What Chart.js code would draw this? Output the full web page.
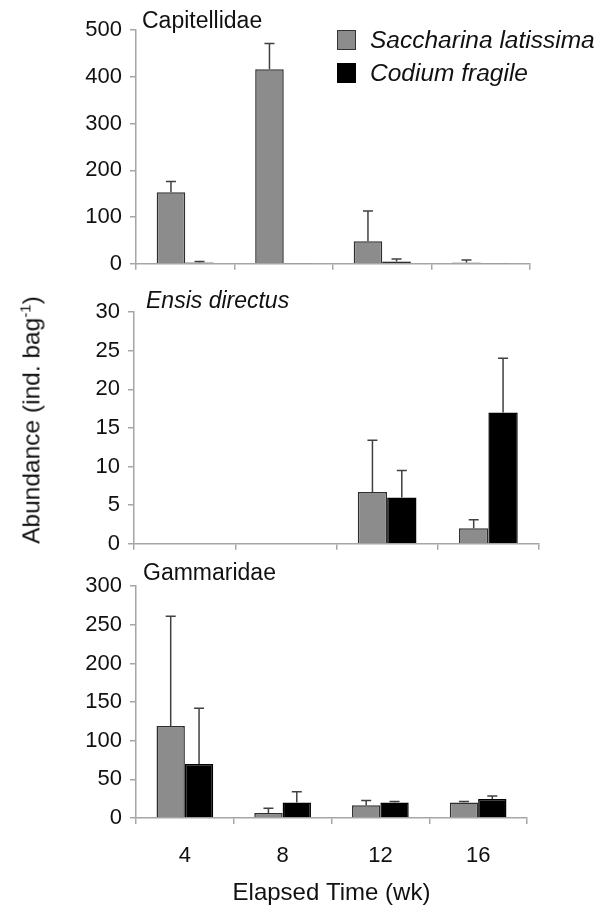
<!DOCTYPE html>
<html lang="en">
<head>
    <meta charset="UTF-8">
    <title>Abundance by elapsed time</title>
    <script src="https://cdn.jsdelivr.net/npm/chart.js"></script>
    <style>
        body { margin: 0; background: #fff; font-family: "Liberation Sans", Arial, sans-serif; }
        #wrap { position: relative; width: 605px; height: 911px; }
        .panel { position: absolute; left: 0; width: 605px; }
        .ptitle { position: absolute; font-size: 23px; color: #111; white-space: nowrap; }
        .legend { position: absolute; left: 337px; top: 23px; font-size: 24.5px; font-style: italic; color: #111; }
        .legend div { display: flex; align-items: center; height: 33px; }
        .swatch { width: 19px; height: 20px; margin-right: 14px; box-sizing: border-box; border: 1.5px solid #333; }
        #ylabel { position: absolute; left: 31px; top: 420px; font-size: 24.5px; color: #111;
                  transform: translate(-50%, -50%) rotate(-90deg); white-space: nowrap; }
    </style>
</head>
<body>
<div id="wrap">
    <div class="panel" style="top:0; height:285px;"><canvas id="c1"></canvas></div>
    <div class="panel" style="top:285px; height:280px;"><canvas id="c2"></canvas></div>
    <div class="panel" style="top:565px; height:346px;"><canvas id="c3"></canvas></div>

    <div class="ptitle" style="left:142px; top:7px;">Capitellidae</div>
    <div class="ptitle" style="left:146px; top:287px; font-style:italic;">Ensis directus</div>
    <div class="ptitle" style="left:143px; top:559px;">Gammaridae</div>

    <div class="legend">
        <div><span class="swatch" style="background:#8c8c8c"></span>Saccharina latissima</div>
        <div><span class="swatch" style="background:#000; border-color:#000"></span>Codium fragile</div>
    </div>

    <div id="ylabel">Abundance (ind. bag<sup style="font-size:15px">-1</sup>)</div>
</div>

<script>
    const weeks = ['4', '8', '12', '16'];

    // Capitellidae
    const capSaccharina = [153, 416, 48, 3];
    const capSaccharinaErr = [23, 55, 65, 5];
    const capCodium = [3, 1, 5, 1];
    const capCodiumErr = [2, 0, 5, 0];

    // Ensis directus
    const ensSaccharina = [0, 0, 6.7, 2];
    const ensSaccharinaErr = [0, 0, 6.7, 1.1];
    const ensCodium = [0, 0, 6, 17];
    const ensCodiumErr = [0, 0, 3.5, 7];

    // Gammaridae
    const gamSaccharina = [119, 6.5, 16.5, 20];
    const gamSaccharinaErr = [142, 6, 6, 1.5];
    const gamCodium = [70, 20, 20, 24.5];
    const gamCodiumErr = [72, 14, 1.5, 4];

    const axisGray = '#a6a6a6';
    const tickFont = { family: '"Liberation Sans", Arial, sans-serif', size: 22 };

    // upper error bars, drawn from the bar top
    const errorBars = {
        id: 'errorBars',
        afterDatasetsDraw(chart) {
            const ctx = chart.ctx;
            const yScale = chart.scales.y;
            ctx.save();
            ctx.strokeStyle = '#404040';
            ctx.lineWidth = 1.5;
            chart.data.datasets.forEach((ds, i) => {
                const meta = chart.getDatasetMeta(i);
                meta.data.forEach((bar, j) => {
                    const err = ds.errors[j];
                    if (!err) return;
                    const yTop = yScale.getPixelForValue(ds.data[j] + err);
                    ctx.beginPath();
                    ctx.moveTo(bar.x, bar.y);
                    ctx.lineTo(bar.x, yTop);
                    ctx.moveTo(bar.x - 5, yTop);
                    ctx.lineTo(bar.x + 5, yTop);
                    ctx.stroke();
                });
            });
            ctx.restore();
        }
    };

    function makePanel(id, sacc, saccErr, cod, codErr, max, step, opts) {
        const ctx = document.getElementById(id).getContext('2d');
        return new Chart(ctx, {
            type: 'bar',
            data: {
                labels: weeks,
                datasets: [
                    {
                        label: 'Saccharina latissima',
                        data: sacc,
                        errors: saccErr,
                        backgroundColor: '#8c8c8c',
                        borderColor: '#2e2e2e',
                        borderWidth: 1.5,
                        borderSkipped: 'bottom'
                    },
                    {
                        label: 'Codium fragile',
                        data: cod,
                        errors: codErr,
                        backgroundColor: '#000',
                        borderColor: '#000',
                        borderWidth: 1.5,
                        borderSkipped: 'bottom'
                    }
                ]
            },
            options: {
                responsive: true,
                maintainAspectRatio: false,
                animation: false,
                layout: { padding: { top: opts.top, right: opts.right, left: 0, bottom: 0 } },
                plugins: { legend: { display: false }, tooltip: { enabled: false } },
                datasets: { bar: { categoryPercentage: 0.58, barPercentage: 1 } },
                scales: {
                    x: {
                        grid: { offset: true, drawOnChartArea: false, drawTicks: true, tickLength: 6, color: axisGray, lineWidth: 1.5 },
                        border: { display: true, color: axisGray, width: 1.5 },
                        ticks: { display: opts.showX, font: tickFont, color: '#111', padding: 19 },
                        title: {
                            display: opts.showX,
                            text: 'Elapsed Time (wk)',
                            font: { family: '"Liberation Sans", Arial, sans-serif', size: 24 },
                            color: '#111',
                            padding: { top: 0, bottom: 3 }
                        },
                        afterFit(scale) { scale.height = opts.xHeight; }
                    },
                    y: {
                        min: 0,
                        max: max,
                        ticks: { stepSize: step, font: tickFont, color: '#111', padding: 8 },
                        grid: { drawOnChartArea: false, drawTicks: true, tickLength: 6, color: axisGray, lineWidth: 1.5 },
                        border: { display: true, color: axisGray, width: 1.5 },
                        afterFit(scale) { scale.width = opts.left; }
                    }
                }
            },
            plugins: [errorBars]
        });
    }

    makePanel('c1', capSaccharina, capSaccharinaErr, capCodium, capCodiumErr, 500, 100,
        { top: 30, right: 75, left: 136, xHeight: 18, showX: false });
    makePanel('c2', ensSaccharina, ensSaccharinaErr, ensCodium, ensCodiumErr, 30, 5,
        { top: 27, right: 66, left: 134, xHeight: 19, showX: false });
    makePanel('c3', gamSaccharina, gamSaccharinaErr, gamCodium, gamCodiumErr, 300, 50,
        { top: 15, right: 78, left: 136, xHeight: 93, showX: true });
</script>
</body>
</html>
